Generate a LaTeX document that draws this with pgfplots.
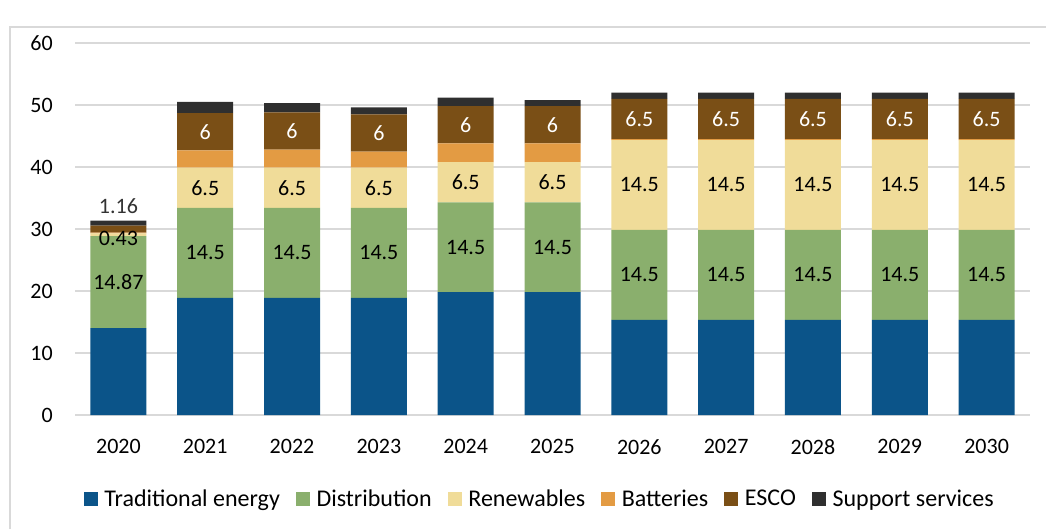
\documentclass[border=0pt]{standalone}
\usepackage{fontspec}
\setmainfont{Carlito}
\usepackage{pgfplots}
\pgfplotsset{compat=1.18}
\usepackage{pgfplotstable}
\definecolor{cTrad}{HTML}{0B5489}
\definecolor{cDist}{HTML}{8AAF6D}
\definecolor{cRen}{HTML}{F0DC99}
\definecolor{cBat}{HTML}{E39B43}
\definecolor{cEsco}{HTML}{7A4F16}
\definecolor{cSup}{HTML}{2F2F2F}
\definecolor{cGrid}{HTML}{D9D9D9}
\pgfplotstableread{
x trad dist ren bat esco sup
0 14.0 14.87 0.43 0.10 1.16 0.80
1 18.9 14.5 6.5 2.8 6.0 1.8
2 18.9 14.5 6.5 2.9 6.0 1.5
3 18.9 14.5 6.5 2.6 6.0 1.1
4 19.8 14.5 6.5 3.0 6.0 1.4
5 19.8 14.5 6.5 3.0 6.0 1.0
6 15.35 14.5 14.5 0.15 6.5 1.0
7 15.35 14.5 14.5 0.15 6.5 1.0
8 15.35 14.5 14.5 0.15 6.5 1.0
9 15.35 14.5 14.5 0.15 6.5 1.0
10 15.35 14.5 14.5 0.15 6.5 1.0
}\datatable
\newcommand{\lfont}{\fontsize{16.5}{20}\selectfont}
\newcommand{\gfont}{\fontsize{18}{22}\selectfont}
\begin{document}
\begin{tikzpicture}
\useasboundingbox (0,0) rectangle (784.5pt,396.75pt);
\draw[cGrid, line width=1.2pt] (7.5pt,0) -- (7.5pt,376.5pt) -- (784.5pt,376.5pt);
\begin{axis}[
  at={(56.25pt,85.5pt)}, anchor=south west,
  scale only axis, width=716.25pt, height=279pt,
  ybar stacked, bar width=42pt,
  xmin=-0.5, xmax=10.5, ymin=0, ymax=60,
  xtick={0,...,10},
  xticklabels={2020,2021,2022,2023,2024,2025,2026,2027,2028,2029,2030},
  ytick={0,10,...,60},
  /pgf/number format/assume math mode=true,
  axis line style={draw=none},
  major tick style={draw=none},
  ymajorgrids, grid style={cGrid, line width=1.1pt},
  tick label style={font=\lfont},
  yticklabel style={anchor=east, inner sep=0pt, xshift=-16.5pt},
  xticklabel style={anchor=north, inner sep=0pt, yshift=-18pt},
  legend columns=6,
  legend style={at={(0.487,-0.226)}, anchor=center, draw=none, font=\gfont,
    inner sep=0pt,
    /tikz/every odd column/.append style={column sep=3pt},
    /tikz/every even column/.append style={column sep=10pt}},
  legend image code/.code={\fill[#1] (0pt,-5.25pt) rectangle (10.5pt,5.25pt);},
]
\addplot[fill=cTrad, draw=none] table[x=x,y=trad]{\datatable};
\addplot[fill=cDist, draw=none] table[x=x,y=dist]{\datatable};
\addplot[fill=cRen, draw=none] table[x=x,y=ren]{\datatable};
\addplot[fill=cBat, draw=none] table[x=x,y=bat]{\datatable};
\addplot[fill=cEsco, draw=none] table[x=x,y=esco]{\datatable};
\addplot[fill=cSup, draw=none] table[x=x,y=sup]{\datatable};
\legend{Traditional energy,Distribution,Renewables,Batteries,ESCO,Support services}
\coordinate (a1) at (axis cs:0,21.4);
\coordinate (a2) at (axis cs:0,28.5);
\coordinate (a3) at (axis cs:0,33.7);
\pgfplotsinvokeforeach{1,2,3}{
  \coordinate (g#1) at (axis cs:#1,26.15);
  \coordinate (r#1) at (axis cs:#1,36.65);
}
\coordinate (e1) at (axis cs:1,45.7);
\coordinate (e2) at (axis cs:2,45.8);
\coordinate (e3) at (axis cs:3,45.5);
\pgfplotsinvokeforeach{4,5}{
  \coordinate (g#1) at (axis cs:#1,27.05);
  \coordinate (r#1) at (axis cs:#1,37.55);
  \coordinate (e#1) at (axis cs:#1,46.8);
}
\pgfplotsinvokeforeach{6,7,8,9,10}{
  \coordinate (g#1) at (axis cs:#1,22.6);
  \coordinate (r#1) at (axis cs:#1,37.1);
  \coordinate (e#1) at (axis cs:#1,47.75);
}
\end{axis}
\node[font=\lfont] at (a1) {14.87};
\node[font=\lfont] at (a2) {0.43};
\node[font=\lfont, text=black!80] at (a3) {1.16};
\foreach \i in {1,...,5} {
  \node[font=\lfont] at (g\i) {14.5};
  \node[font=\lfont] at (r\i) {6.5};
  \node[font=\lfont, text=white] at (e\i) {6};
}
\foreach \i in {6,...,10} {
  \node[font=\lfont] at (g\i) {14.5};
  \node[font=\lfont] at (r\i) {14.5};
  \node[font=\lfont, text=white] at (e\i) {6.5};
}
\end{tikzpicture}
\end{document}
